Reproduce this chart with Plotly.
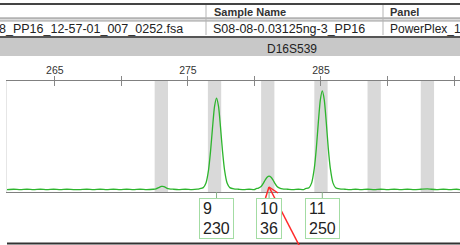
import plotly.graph_objects as go

# ---------------- data ----------------
bp = [261.4, 261.9, 262.4, 262.9, 263.4, 263.9, 264.4, 264.9, 265.4, 265.9,
      266.4, 266.9, 267.4, 267.9, 268.4, 268.9, 269.4, 269.9, 270.4, 270.9,
      271.4, 271.9, 272.4, 272.6, 272.8, 273.0, 273.1, 273.25, 273.4, 273.6,
      273.9, 274.3, 274.8, 275.3, 275.7,
      275.85, 276.15, 276.35, 276.55, 276.7, 276.85, 277.0, 277.15, 277.3, 277.45,
      277.6, 277.75, 277.95, 278.15, 278.45,
      278.8, 279.2, 279.6, 280.0,
      280.1, 280.3, 280.5, 280.65, 280.8, 280.95, 281.1, 281.25, 281.4, 281.55,
      281.7, 281.9, 282.1,
      282.5, 282.9, 283.3, 283.7,
      283.8, 284.1, 284.3, 284.5, 284.65, 284.8, 284.95, 285.1, 285.25, 285.4,
      285.55, 285.7, 285.9, 286.1, 286.4,
      286.8, 287.2, 287.6, 288.0, 288.5, 289.0, 289.5, 290.0, 290.5, 291.0,
      291.5, 292.0, 292.5, 293.0, 293.3, 293.7, 294.2, 294.7, 295.2, 295.45]
rfu = [1, 2, 1, 2, 1, 2, 1, 2, 1, 2,
       1, 1, 2, 1, 2, 1, 2, 1, 2, 1,
       2, 1, 2, 3, 6, 9, 9, 8, 5, 3,
       2, 1, 2, 1, 2,
       3, 6, 17, 51, 98, 158, 211, 232, 211, 158,
       98, 51, 17, 6, 3,
       2, 1, 2, 1,
       3, 5, 9, 16, 25, 32, 35, 32, 25, 16,
       9, 5, 3,
       2, 1, 2, 1,
       3, 6, 18, 55, 105, 170, 227, 250, 227, 170,
       105, 55, 18, 6, 3,
       2, 1, 2, 1, 2, 1, 2, 1, 2, 1,
       2, 1, 2, 3, 2, 1, 2, 1, 2, 1]

bin_centers = [273, 277, 281, 285, 289, 293]
allele_pos = [277.15, 281.1, 285.1]
allele_names = ["9", "10", "11"]
allele_heights = [230, 36, 250]
tick_vals = [265, 270, 275, 280, 285, 290, 295]
tick_text = ["265", "", "275", "", "285", "", "295"]
marker_name = "D16S539"
col_headers = ["Sample Name", "Panel"]
row_values = ["8_PP16_12-57-01_007_0252.fsa", "S08-08-0.03125ng-3_PP16", "PowerPlex_1"]
x_range = [261.4, 295.45]
y_range = [-5, 275]

# ---------------- layout helpers ----------------
W, H = 460, 245
L, R, T, B = 7, 0, 81, 53
PW, PH = W - L - R, H - T - B
FONT = "Liberation Sans, Arial, sans-serif"


def fx(px):
    return (px - L) / PW


def fy(py):
    return 1 - (py - T) / PH


fig = go.Figure()
fig.add_trace(go.Scatter(x=bp, y=rfu, mode="lines",
                         line=dict(color="#2db52d", width=1.3, shape="spline", smoothing=0.6),
                         hoverinfo="skip", showlegend=False))
# invisible helper trace for the tick overlay axis
fig.add_trace(go.Scatter(x=[x_range[0]], y=[0], xaxis="x2", mode="markers",
                         marker=dict(opacity=0), showlegend=False, hoverinfo="skip"))

shapes = []
# bins
for c in bin_centers:
    shapes.append(dict(type="rect", xref="x", yref="paper", x0=c - 0.5, x1=c + 0.5,
                       y0=0, y1=1, fillcolor="#d9d9d9", line=dict(width=0), layer="below"))


def hline(py, color, width, x0=0, x1=W):
    shapes.append(dict(type="line", xref="paper", yref="paper", x0=fx(x0), x1=fx(x1),
                       y0=fy(py), y1=fy(py), line=dict(color=color, width=width)))


def vline(px, y0, y1, color, width):
    shapes.append(dict(type="line", xref="paper", yref="paper", x0=fx(px), x1=fx(px),
                       y0=fy(y0), y1=fy(y1), line=dict(color=color, width=width)))


# header/data row separator band
shapes.append(dict(type="rect", xref="paper", yref="paper", x0=fx(0), x1=fx(W),
                   y0=fy(21), y1=fy(18), fillcolor="#dcdcdc", line=dict(width=0)))
hline(18, "#8a8a8a", 1)
hline(21, "#a0a0a0", 1)
hline(4, "#444444", 2)
vline(206, 5, 35, "#b5b5b5", 1)
vline(383, 5, 35, "#b5b5b5", 1)
# gray marker band
shapes.append(dict(type="rect", xref="paper", yref="paper", x0=fx(0), x1=fx(W),
                   y0=fy(56), y1=fy(38), fillcolor="#c8c8c8", line=dict(width=0)))
hline(37, "#555555", 2)
# bottom dark line
hline(243.5, "#333333", 2, x0=7)

# connectors from baseline to label boxes
for p in allele_pos:
    shapes.append(dict(type="line", xref="x", yref="paper", x0=p, x1=p,
                       y0=fy(192), y1=fy(198), line=dict(color="#86b086", width=1)))

# red arrow (line + open head)
tip = (269, 187)
shapes.append(dict(type="line", xref="paper", yref="paper", x0=fx(300), y0=fy(247),
                   x1=fx(tip[0]), y1=fy(tip[1]), line=dict(color="#ff2a2a", width=1.5)))
for hx, hy in [(265.5, 198), (278, 193)]:
    shapes.append(dict(type="line", xref="paper", yref="paper", x0=fx(hx), y0=fy(hy),
                       x1=fx(tip[0]), y1=fy(tip[1]), line=dict(color="#ff2a2a", width=1.5)))

annotations = []
# table header texts
annotations.append(dict(text="<b>%s</b>" % col_headers[0], xref="paper", yref="paper",
                        x=fx(212), y=fy(12), xanchor="left", yanchor="middle", showarrow=False,
                        font=dict(family=FONT, size=11, color="#333333")))
annotations.append(dict(text="<b>%s</b>" % col_headers[1], xref="paper", yref="paper",
                        x=fx(388), y=fy(12), xanchor="left", yanchor="middle", showarrow=False,
                        font=dict(family=FONT, size=11, color="#333333")))
annotations.append(dict(text=row_values[0], xref="paper", yref="paper",
                        x=fx(185), y=fy(29), xanchor="right", yanchor="middle", showarrow=False,
                        font=dict(family=FONT, size=12.5, color="#222222")))
annotations.append(dict(text=row_values[1], xref="paper", yref="paper",
                        x=fx(211), y=fy(29), xanchor="left", yanchor="middle", showarrow=False,
                        font=dict(family=FONT, size=12.5, color="#222222")))
annotations.append(dict(text=row_values[2], xref="paper", yref="paper",
                        x=fx(388), y=fy(29), xanchor="left", yanchor="middle", showarrow=False,
                        font=dict(family=FONT, size=12, color="#222222")))
annotations.append(dict(text=marker_name, xref="paper", yref="paper",
                        x=fx(292), y=fy(48.5), xanchor="center", yanchor="middle", showarrow=False,
                        font=dict(family=FONT, size=12, color="#222222")))
# allele label boxes
for p, n, h in zip(allele_pos, allele_names, allele_heights):
    annotations.append(dict(text="%s<br>%d" % (n, h), xref="x", yref="paper",
                            x=p, y=fy(198), xanchor="center", yanchor="top", showarrow=False,
                            align="left", height=33, borderpad=3, borderwidth=1,
                            bordercolor="#a3dca3", bgcolor="white",
                            font=dict(family=FONT, size=16, color="#222222")))

fig.update_layout(
    width=W, height=H,
    margin=dict(l=L, r=R, t=T, b=B, autoexpand=False),
    paper_bgcolor="white", plot_bgcolor="white",
    showlegend=False,
    shapes=shapes, annotations=annotations,
    xaxis=dict(range=x_range, side="top", tickvals=tick_vals, ticktext=tick_text,
               ticks="outside", ticklen=4, tickcolor="#888888", tickwidth=1,
               ticklabelstandoff=-2,
               showline=True, linecolor="#808080", linewidth=1, mirror=True,
               showgrid=False, zeroline=False, fixedrange=True,
               tickfont=dict(family=FONT, size=10.5, color="#333333")),
    xaxis2=dict(range=x_range, overlaying="x", side="top", tickvals=tick_vals,
                ticks="inside", ticklen=5, tickcolor="#888888", tickwidth=1,
                showticklabels=False, showline=False, showgrid=False, zeroline=False,
                anchor="y", fixedrange=True),
    yaxis=dict(range=y_range, showticklabels=False, ticks="", showgrid=False,
               zeroline=False, showline=True, linecolor="#e6e6e6", linewidth=1,
               fixedrange=True),
)

fig.write_html("out.html", config={"displayModeBar": False},
               post_script="document.body.style.margin='0';")
